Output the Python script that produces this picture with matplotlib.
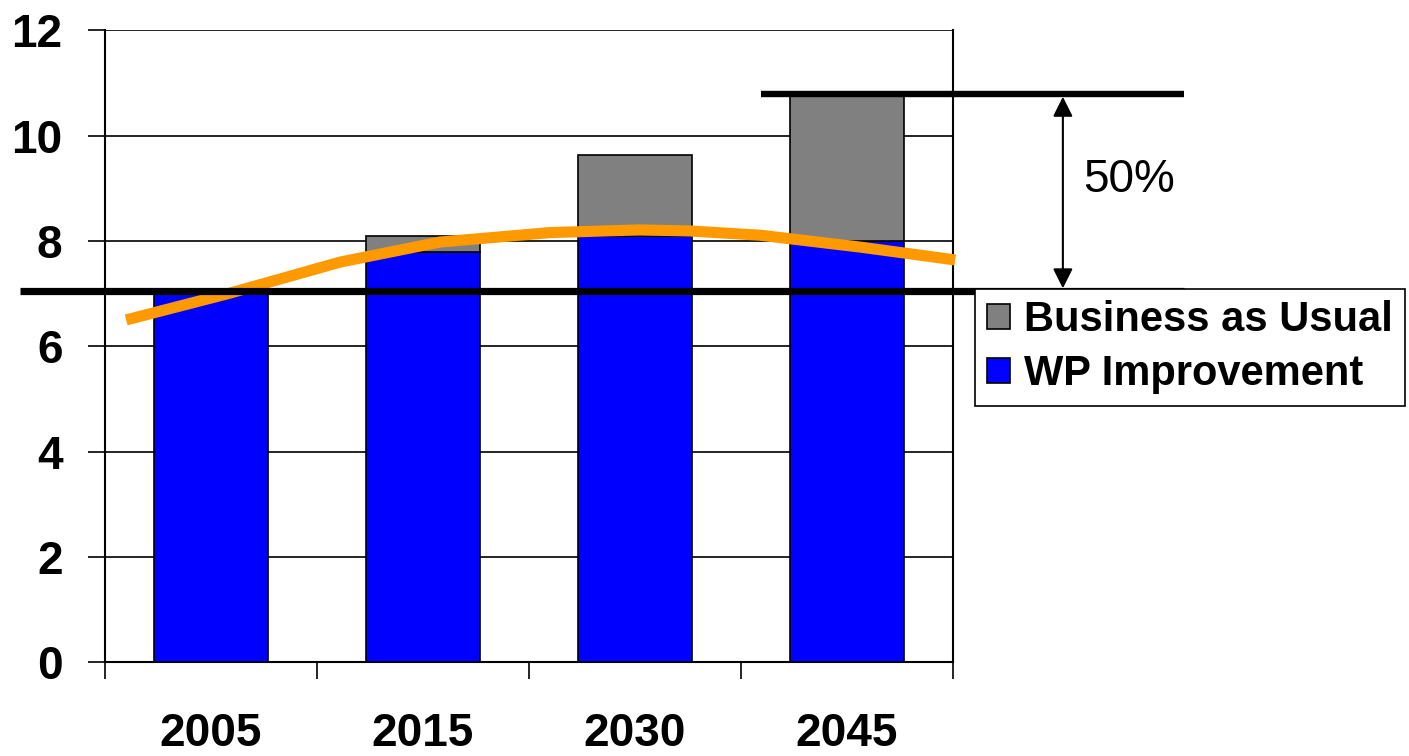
import matplotlib
matplotlib.use("Agg")
import matplotlib.pyplot as plt
import numpy as np

plt.rcParams["font.family"] = ["Liberation Sans", "DejaVu Sans"]

# Data
years = ["2005", "2015", "2030", "2045"]
wp_improvement = [7.0, 7.8, 8.1, 8.0]
business_as_usual = [0.0, 0.3, 1.53, 2.8]   # stacked on top of WP improvement

# Orange trend curve (x in category units, 2005 = 0)
trend_x = [-0.40, 0.09, 0.61, 1.08, 1.60, 2.02, 2.26, 2.59, 3.07, 3.51]
trend_y = [6.50, 7.01, 7.60, 7.98, 8.16, 8.21, 8.19, 8.11, 7.88, 7.64]

baseline_level = 7.05
bau_level = 10.79
gap_label = "50%"

fig = plt.figure(figsize=(14.09, 7.56), dpi=100)
ax = fig.add_axes([0.0745, 0.1243, 0.6019, 0.8354])

x = np.arange(len(years))
ax.bar(x, wp_improvement, width=0.54, color="#0000FF", edgecolor="black",
       linewidth=1.2, zorder=3, label="WP Improvement")
ax.bar(x, business_as_usual, width=0.54, bottom=wp_improvement, color="#808080",
       edgecolor="black", linewidth=1.2, zorder=3, label="Business as Usual")

ax.plot(trend_x, trend_y, color="#FF9900", linewidth=8, zorder=4,
        solid_capstyle="butt", solid_joinstyle="round", clip_on=False)

# reference levels
ax.plot([-0.90, 4.59], [baseline_level, baseline_level], color="black",
        linewidth=5.2, zorder=5, clip_on=False, solid_capstyle="butt")
ax.plot([2.595, 4.59], [bau_level, bau_level], color="black",
        linewidth=4.6, zorder=5, clip_on=False, solid_capstyle="butt")
ax.annotate("", xy=(4.018, baseline_level + 0.05), xytext=(4.018, bau_level - 0.05),
            arrowprops=dict(arrowstyle="<|-|>", color="black", lw=1.5,
                            mutation_scale=30, shrinkA=0, shrinkB=0),
            annotation_clip=False, zorder=5)
ax.text(4.33, 9.15, gap_label, fontsize=33, ha="center", va="center",
        clip_on=False)

ax.set_xlim(-0.5, 3.5)
ax.set_ylim(0, 12)
ax.set_yticks(range(0, 13, 2))
ax.yaxis.grid(True, color="black", linewidth=1.2, zorder=0)
ax.set_axisbelow(True)

ax.set_xticks(x)
ax.set_xticklabels(years, fontsize=33, fontweight="bold")
ax.set_xticks(np.arange(-0.5, 4.0, 1.0), minor=True)
ax.tick_params(axis="x", which="major", length=0, pad=36)
ax.tick_params(axis="x", which="minor", length=12.5, width=1.2, direction="out")
ax.tick_params(axis="y", length=12.5, width=1.2, direction="out", pad=18,
               labelsize=33)
for lbl in ax.get_yticklabels():
    lbl.set_fontweight("bold")

for side in ["left", "bottom", "right"]:
    ax.spines[side].set_linewidth(1.5)
ax.spines["top"].set_visible(False)

handles, labels = ax.get_legend_handles_labels()
leg = fig.legend(handles[::-1], labels[::-1], loc="upper left",
                 bbox_to_anchor=(0.692, 0.618),
                 prop={"weight": "bold", "size": 30}, fancybox=False,
                 edgecolor="black", framealpha=1, handlelength=0.55,
                 handleheight=0.55, handletextpad=0.35, borderpad=0.28,
                 labelspacing=0.33, borderaxespad=0)
leg.get_frame().set_linewidth(1.2)

fig.savefig("out.png", dpi=100)
